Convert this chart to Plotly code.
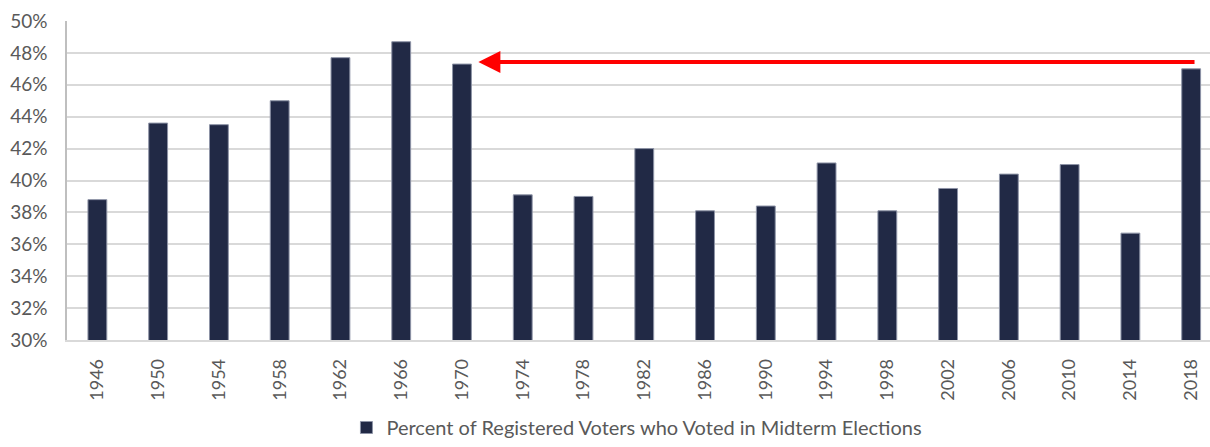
import plotly.graph_objects as go

years = ["1946", "1950", "1954", "1958", "1962", "1966", "1970", "1974", "1978", "1982",
         "1986", "1990", "1994", "1998", "2002", "2006", "2010", "2014", "2018"]
turnout = [38.8, 43.6, 43.5, 45.0, 47.7, 48.7, 47.3, 39.1, 39.0, 42.0,
           38.1, 38.4, 41.1, 38.1, 39.5, 40.4, 41.0, 36.7, 47.0]
series_name = "Percent of Registered Voters who Voted in Midterm Elections"
y_ticks = [30, 32, 34, 36, 38, 40, 42, 44, 46, 48, 50]
y_labels = [f"{v}%" for v in y_ticks]

# arrow from 2018 back to 1970
arrow_level = 47.43
arrow_tail_x = 18.08
arrow_head_x = 6.27

font_family = "Lato, 'Open Sans', sans-serif"
text_color = "#595959"

fig = go.Figure()
fig.add_trace(go.Bar(
    x=years, y=turnout, name=series_name,
    marker=dict(color="#212945", line=dict(color="#8d93a6", width=1)),
    width=0.31,
))

fig.add_annotation(
    x=arrow_head_x, y=arrow_level, ax=arrow_tail_x, ay=arrow_level,
    xref="x", yref="y", axref="x", ayref="y",
    showarrow=True, arrowhead=2, arrowsize=1.1, arrowwidth=4,
    arrowcolor="#ff0000", text="",
)

fig.update_layout(
    width=1210, height=447,
    margin=dict(l=67, r=0, t=21, b=107),
    paper_bgcolor="white", plot_bgcolor="white",
    font=dict(family=font_family, size=18, color=text_color),
    showlegend=True,
    legend=dict(
        orientation="h", xref="container", yref="container",
        x=0.5264, xanchor="center", y=0.0, yanchor="bottom",
        font=dict(size=20, color=text_color),
    ),
    bargap=0.69,
)
fig.update_xaxes(
    type="category", range=[-0.5, 18.31],
    tickangle=-90, showgrid=False,
    showline=True, linecolor="#d9d9d9", linewidth=1.5,
    ticks="outside", ticklen=10, tickcolor="rgba(0,0,0,0)",
    tickfont=dict(size=18, color=text_color),
)
fig.update_yaxes(
    range=[30, 50], tickvals=y_ticks, ticktext=y_labels,
    showgrid=True, gridcolor="#d9d9d9", gridwidth=1.5,
    showline=True, linecolor="#bfbfbf", linewidth=1.5,
    ticks="outside", ticklen=14, tickcolor="rgba(0,0,0,0)",
    tickfont=dict(size=19, color=text_color),
    zeroline=False,
)

fig.write_html("out.html")
